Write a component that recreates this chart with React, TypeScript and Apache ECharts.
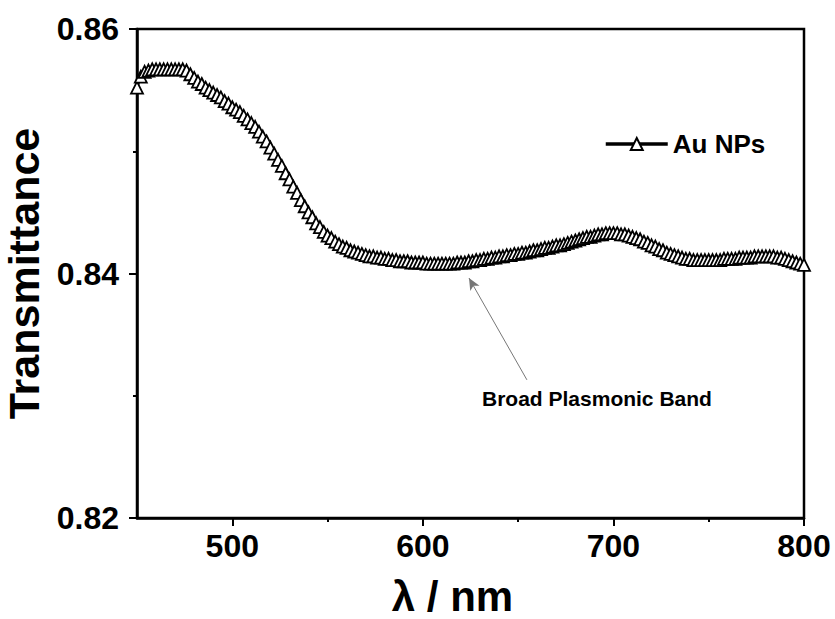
import React, { useEffect, useRef } from "react";
import * as echarts from "echarts";

const wavelengths: number[] = [
  450, 452, 454, 456, 458, 460, 462, 464, 466, 468, 470, 472, 474, 476, 478, 480, 482, 484, 486, 488,
  490, 492, 494, 496, 498, 500, 502, 504, 506, 508, 510, 512, 514, 516, 518, 520, 522, 524, 526, 528,
  530, 532, 534, 536, 538, 540, 542, 544, 546, 548, 550, 552, 554, 556, 558, 560, 562, 564, 566, 568,
  570, 572, 574, 576, 578, 580, 582, 584, 586, 588, 590, 592, 594, 596, 598, 600, 602, 604, 606, 608,
  610, 612, 614, 616, 618, 620, 622, 624, 626, 628, 630, 632, 634, 636, 638, 640, 642, 644, 646, 648,
  650, 652, 654, 656, 658, 660, 662, 664, 666, 668, 670, 672, 674, 676, 678, 680, 682, 684, 686, 688,
  690, 692, 694, 696, 698, 700, 702, 704, 706, 708, 710, 712, 714, 716, 718, 720, 722, 724, 726, 728,
  730, 732, 734, 736, 738, 740, 742, 744, 746, 748, 750, 752, 754, 756, 758, 760, 762, 764, 766, 768,
  770, 772, 774, 776, 778, 780, 782, 784, 786, 788, 790, 792, 794, 796, 798, 800,
];

const transmittance: number[] = [
  0.8552, 0.8561, 0.8565, 0.8566, 0.8567, 0.8567, 0.8567, 0.8567, 0.8567, 0.8567, 0.8567, 0.8567, 0.8567, 0.8566, 0.8563, 0.856, 0.8557, 0.8555, 0.8552, 0.855,
  0.8548, 0.8546, 0.8544, 0.8541, 0.8539, 0.8536, 0.8534, 0.8532, 0.8529, 0.8526, 0.8523, 0.852, 0.8516, 0.8512, 0.8508, 0.8503, 0.8498, 0.8493, 0.8488, 0.8482,
  0.8477, 0.8471, 0.8466, 0.846, 0.8455, 0.845, 0.8446, 0.8441, 0.8438, 0.8434, 0.8431, 0.8429, 0.8426, 0.8424, 0.8422, 0.8421, 0.8419, 0.8418, 0.8417, 0.8416,
  0.8415, 0.8414, 0.8414, 0.8413, 0.8413, 0.8412, 0.8412, 0.8411, 0.8411, 0.841, 0.841, 0.841, 0.8409, 0.8409, 0.8409, 0.8409, 0.8408, 0.8408, 0.8408, 0.8408,
  0.8408, 0.8408, 0.8408, 0.8408, 0.8409, 0.8409, 0.8409, 0.841, 0.841, 0.8411, 0.8411, 0.8412, 0.8412, 0.8413, 0.8413, 0.8414, 0.8414, 0.8415, 0.8415, 0.8416,
  0.8416, 0.8417, 0.8417, 0.8418, 0.8419, 0.8419, 0.842, 0.8421, 0.8421, 0.8422, 0.8423, 0.8423, 0.8424, 0.8425, 0.8426, 0.8427, 0.8428, 0.8429, 0.843, 0.843,
  0.8431, 0.8432, 0.8432, 0.8433, 0.8433, 0.8433, 0.8433, 0.8432, 0.8432, 0.8431, 0.843, 0.8429, 0.8428, 0.8426, 0.8425, 0.8423, 0.8422, 0.842, 0.8419, 0.8417,
  0.8416, 0.8415, 0.8414, 0.8413, 0.8412, 0.8412, 0.8411, 0.8411, 0.8411, 0.8411, 0.8411, 0.8411, 0.8411, 0.8411, 0.8412, 0.8412, 0.8412, 0.8412, 0.8413, 0.8413,
  0.8413, 0.8413, 0.8414, 0.8414, 0.8414, 0.8414, 0.8414, 0.8414, 0.8413, 0.8413, 0.8412, 0.8411, 0.841, 0.8409, 0.8408, 0.8407,
];

const xMajorTicks: number[] = [500, 600, 700, 800];
const xMinorTicks: number[] = [550, 650, 750];
const seriesName = "Au NPs";
const annotationText = "Broad Plasmonic Band";
const arrowStart: [number, number] = [654.6, 0.8313];
const arrowEnd: [number, number] = [624.2, 0.83963];

const FONT = "'Liberation Sans', Arial, sans-serif";

export default function App() {
  const ref = useRef<HTMLDivElement>(null);
  useEffect(() => {
    if (!ref.current) return;
    const chart = echarts.init(ref.current, null, { renderer: "svg" });
    const data = wavelengths.map((w, i) => [w, transmittance[i]]);
    chart.setOption({
      animation: false,
      backgroundColor: "#fff",
      grid: {
        left: 137,
        right: 31,
        top: 29,
        bottom: 101,
        show: true,
        borderColor: "#000",
        borderWidth: 2.5,
        containLabel: false,
        outerBoundsMode: "none",
      },
      legend: {
        left: 604,
        top: 131,
        padding: 0,
        itemWidth: 62,
        itemHeight: 15,
        lineStyle: { width: 3.5, color: "#000" },
        textStyle: { fontFamily: FONT, fontWeight: "bold", fontSize: 26, color: "#000" },
        data: [seriesName],
      },
      xAxis: [
        {
          type: "value",
          min: 450,
          max: 800,
          name: "λ / nm",
          nameLocation: "middle",
          nameGap: 58,
          nameTextStyle: {
            fontFamily: FONT,
            fontWeight: "bold",
            fontSize: 42,
            lineHeight: 40,
            color: "#000",
            padding: [0, 36, 0, 0],
          },
          axisLine: { show: true, lineStyle: { color: "#000", width: 2.5 } },
          axisTick: { show: true, inside: false, length: 8, customValues: xMajorTicks, lineStyle: { color: "#000", width: 2 } },
          axisLabel: {
            customValues: xMajorTicks,
            margin: 12,
            fontFamily: FONT,
            fontWeight: "bold",
            fontSize: 32,
            color: "#000",
          },
          splitLine: { show: false },
        },
        {
          type: "value",
          min: 450,
          max: 800,
          position: "bottom",
          axisLine: { show: false },
          axisTick: { show: true, inside: false, length: 4, customValues: xMinorTicks, lineStyle: { color: "#000", width: 2 } },
          axisLabel: { show: false },
          splitLine: { show: false },
        },
      ],
      yAxis: {
        type: "value",
        min: 0.82,
        max: 0.86,
        interval: 0.02,
        name: "Transmittance",
        nameLocation: "middle",
        nameGap: 89,
        nameTextStyle: { fontFamily: FONT, fontWeight: "bold", fontSize: 43, color: "#000" },
        axisLine: { show: true, lineStyle: { color: "#000", width: 2.5 } },
        axisTick: { show: true, inside: false, length: 8, lineStyle: { color: "#000", width: 2 } },
        minorTick: { show: true, splitNumber: 2, length: 4, lineStyle: { color: "#000", width: 2 } },
        axisLabel: {
          margin: 18,
          fontFamily: FONT,
          fontWeight: "bold",
          fontSize: 32,
          color: "#000",
          formatter: (v: number) => v.toFixed(2),
        },
        splitLine: { show: false },
      },
      series: [
        {
          name: seriesName,
          type: "line",
          data,
          symbol: "triangle",
          symbolSize: 12,
          showAllSymbol: true,
          lineStyle: { color: "#000", width: 2.5 },
          itemStyle: { color: "#fff", borderColor: "#000", borderWidth: 1.8 },
          markLine: {
            silent: true,
            symbol: ["none", "arrow"],
            symbolSize: [8, 12],
            label: { show: false },
            lineStyle: { color: "#777", width: 1, type: "solid" },
            data: [
              [
                { coord: arrowStart, symbol: "none" },
                { coord: arrowEnd, symbol: "arrow", itemStyle: { color: "#000" } },
              ],
            ],
          },
        },
      ],
      graphic: [
        {
          type: "text",
          left: 482,
          top: 388,
          style: {
            text: annotationText,
            fontFamily: FONT,
            fontWeight: "bold",
            fontSize: 21,
            fill: "#000",
          },
        },
      ],
    });
    return () => chart.dispose();
  }, []);
  return <div ref={ref} style={{ width: 835, height: 619, position: "absolute", left: 0, top: 0 }} />;
}
